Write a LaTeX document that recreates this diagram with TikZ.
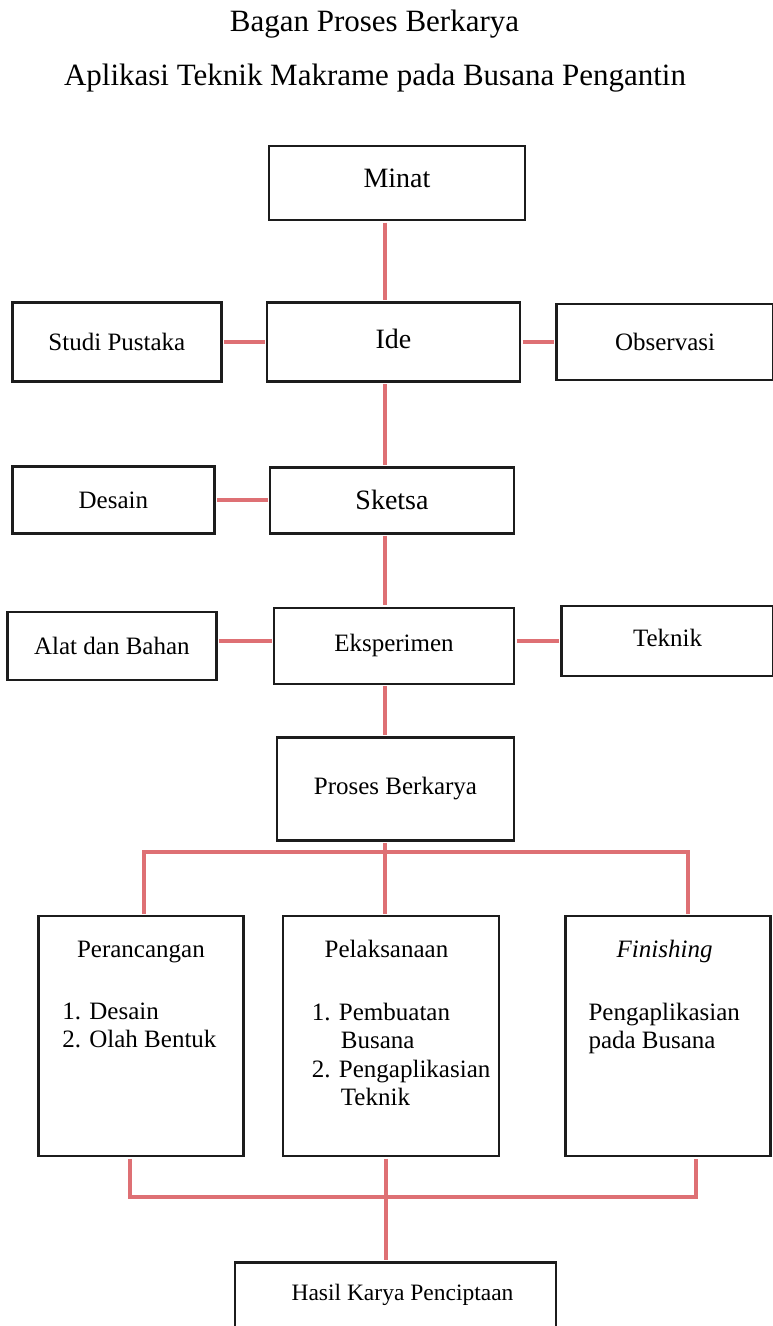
\documentclass[tikz,border=0pt]{standalone}
\usepackage{fontspec}
\setmainfont{Liberation Serif}
\usepackage{xcolor}
\usepackage{tikz}
\usetikzlibrary{positioning}

\definecolor{linkred}{RGB}{222,112,116}
\definecolor{boxline}{RGB}{28,28,28}

\begin{document}
\begin{tikzpicture}[
    x=1pt, y=-1pt,
    box/.style={
        draw=boxline,
        line width=2.6pt,
        align=center,
        inner sep=0pt,
        font=\fontsize{25}{28}\selectfont
    },
    bigbox/.style={box, font=\fontsize{28}{32}\selectfont},
    tallbox/.style={box, minimum width=205pt, minimum height=240pt},
    title/.style={anchor=base, font=\fontsize{31}{36}\selectfont},
    head/.style={anchor=base, font=\fontsize{25}{28}\selectfont, inner sep=0pt},
    item/.style={anchor=north west, align=left, inner sep=0pt,
        font=\fontsize{25}{28.5}\selectfont},
    link/.style={draw=linkred, line width=4pt, shorten <=1.2pt, shorten >=1.2pt}
]
\useasboundingbox (0,0) rectangle (773,1326);
\clip (0,0) rectangle (773,1326);

\node[title] (title) at (374.5,31) {Bagan Proses Berkarya};
\node[title] (subtitle) at (375,85) {Aplikasi Teknik Makrame pada Busana Pengantin};

% main column
\node[bigbox, minimum width=256pt, minimum height=74pt] (minat) at (397,183) {\raisebox{10pt}{Minat}};
\node[bigbox, minimum width=253pt, minimum height=79pt, below=80pt of minat, xshift=-3.5pt] (ide) {\raisebox{6pt}{Ide}};
\node[bigbox, minimum width=244pt, minimum height=66pt, below=83pt of ide, xshift=-1.5pt] (sketsa) {Sketsa};
\node[box, minimum width=240pt, minimum height=76pt, below=72pt of sketsa, xshift=2pt] (eksperimen) {\raisebox{6pt}{Eksperimen}};
\node[box, minimum width=237pt, minimum height=103pt, below=51pt of eksperimen, xshift=1.5pt] (proses) {Proses Berkarya};

% side boxes
\node[box, minimum width=209pt, minimum height=79pt, left=43pt of ide] (studi) {Studi Pustaka};
\node[box, minimum width=217pt, minimum height=76pt, right=34pt of ide] (observasi) {Observasi};
\node[box, minimum width=202pt, minimum height=67pt, left=53pt of sketsa] (desain) {Desain};
\node[box, minimum width=209pt, minimum height=68pt, left=55pt of eksperimen] (alat) {Alat dan Bahan};
\node[box, minimum width=212pt, minimum height=70pt, right=45pt of eksperimen, yshift=5pt] (teknik) {\raisebox{6pt}{Teknik}};

% three stages
\node[tallbox, minimum width=216pt, below=73pt of proses, xshift=-4.5pt] (pelaksanaan) {};
\node[tallbox, left=37pt of pelaksanaan] (perancangan) {};
\node[tallbox, right=64pt of pelaksanaan] (finishing) {};

\node[head] (perancanganH) at ([yshift=-43pt]perancangan.north) {Perancangan};
\node[item] (perancanganL) at ([xshift=25pt, yshift=-88pt]perancangan.north west)
    {1. Desain\\2. Olah Bentuk};
\node[head] (pelaksanaanH) at ([xshift=-4.5pt, yshift=-43pt]pelaksanaan.north) {Pelaksanaan};
\node[item] (pelaksanaanL) at ([xshift=30pt, yshift=-88pt]pelaksanaan.north west)
    {1. Pembuatan\\\hspace*{29pt}Busana\\2. Pengaplikasian\\\hspace*{29pt}Teknik};
\node[head] (finishingH) at ([xshift=-3.5pt, yshift=-43pt]finishing.north) {\itshape Finishing};
\node[item] (finishingL) at ([xshift=24pt, yshift=-88pt]finishing.north west)
    {Pengaplikasian\\pada Busana};

\node[box, minimum width=321pt, minimum height=83pt, font=\fontsize{23.5}{27}\selectfont,
    below=104pt of pelaksanaan, xshift=4.5pt] (hasil) {\hspace*{14pt}\raisebox{24pt}{Hasil Karya Penciptaan}};

% connectors
\coordinate (spine) at (385,0);
\coordinate (busTop) at (385,852);
\coordinate (busBot) at (386,1197);

\draw[link] (minat.south -| spine) -- (ide.north -| spine);
\draw[link] (ide.south -| spine) -- (sketsa.north -| spine);
\draw[link] (sketsa.south -| spine) -- (eksperimen.north -| spine);
\draw[link] (eksperimen.south -| spine) -- (proses.north -| spine);
\draw[link] (studi.east |- ide.west) -- (ide.west);
\draw[link] (ide.east |- observasi.west) -- (observasi.west);
\draw[link] (desain.east |- sketsa.west) -- (sketsa.west);
\draw[link] (alat.east |- teknik.west) -- (eksperimen.west |- teknik.west);
\draw[link] (eksperimen.east |- teknik.west) -- (teknik.west);

\draw[link] (proses.south -| busTop) -- (busTop);
\draw[link] ([xshift=3.5pt]perancangan.north) |- (busTop) -| ([xshift=19.5pt]finishing.north);
\draw[link, shorten <=0pt] (busTop) -- (pelaksanaan.north -| busTop);

\draw[link] ([xshift=-10.5pt]perancangan.south) |- (busBot) -| ([xshift=27.5pt]finishing.south);
\draw[link] (pelaksanaan.south -| busBot) -- (hasil.north -| busBot);
\end{tikzpicture}
\end{document}
